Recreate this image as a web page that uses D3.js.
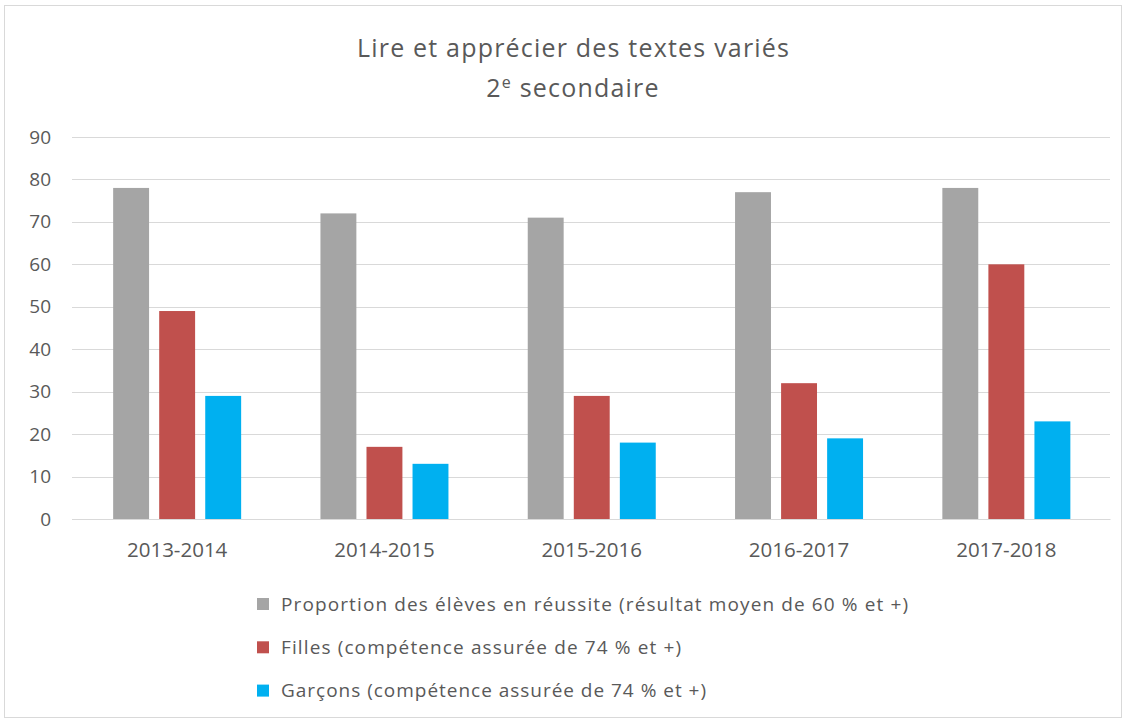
<!DOCTYPE html>
<html><head><meta charset="utf-8">
<script src="https://cdn.jsdelivr.net/npm/d3@7/dist/d3.min.js"></script>
<style>body{margin:0;background:#fff;} text{font-family:"Open Sans","Liberation Sans",sans-serif;}</style>
</head><body><svg id="c" width="1126" height="723"></svg>
<script>
const categories = ["2013-2014","2014-2015","2015-2016","2016-2017","2017-2018"];
const seriesNames = ["Proportion des élèves en réussite (résultat moyen de 60 % et +)","Filles  (compétence assurée de 74 % et +)","Garçons (compétence assurée de 74 % et +)"];
const reussite = [78,72,71,77,78];
const filles = [49,17,29,32,60];
const garcons = [29,13,18,19,23];
const yTicks = [0,10,20,30,40,50,60,70,80,90];
const colors = ["#a5a5a5","#c0504d","#00b0f0"];
const series = [reussite, filles, garcons];
const legendWidths = [627,400,425];

const svg = d3.select("#c");
svg.append("rect").attr("x",4.5).attr("y",5.5).attr("width",1117).attr("height",712).attr("fill","#fff").attr("stroke","#d9d9d9");

const x0 = d3.scaleBand().domain(categories).range([73.5,1110]);
const bw = x0.bandwidth();
const groupW = 128;
const x1 = d3.scaleBand().domain(d3.range(3)).range([(bw-groupW)/2,(bw+groupW)/2]).paddingInner(0.22).paddingOuter(0);
const y = d3.scaleLinear().domain([0,90]).range([519,137]);

const grid = svg.append("g");
grid.selectAll("line").data(yTicks).join("line")
  .attr("x1",72).attr("x2",1110).attr("y1",d=>Math.round(y(d))+0.5).attr("y2",d=>Math.round(y(d))+0.5)
  .attr("stroke","#d9d9d9").attr("stroke-width",1);

const yAxis = svg.append("g").attr("transform","translate(72,0)")
  .call(d3.axisLeft(y).tickValues(yTicks).tickSize(0).tickPadding(21));
yAxis.select(".domain").remove();
yAxis.selectAll("text").attr("fill","#595959").style("font-size","19px");

const groups = svg.append("g").selectAll("g").data(categories).join("g")
  .attr("transform",d=>`translate(${x0(d)},0)`);
groups.selectAll("rect").data((d,i)=>series.map((s,k)=>({k,v:s[i]}))).join("rect")
  .attr("x",d=>x1(d.k)).attr("width",x1.bandwidth())
  .attr("y",d=>y(d.v)).attr("height",d=>y(0)-y(d.v))
  .attr("fill",d=>colors[d.k]);

const xAxis = svg.append("g").attr("transform","translate(0,519)")
  .call(d3.axisBottom(x0).tickSize(0).tickPadding(23));
xAxis.select(".domain").attr("stroke","#d9d9d9");
xAxis.selectAll("text").attr("fill","#595959").style("font-size","20.5px");

svg.append("text").attr("x",573).attr("y",57).attr("text-anchor","middle")
  .attr("fill","#595959").style("font-size","25px")
  .attr("textLength",432).attr("lengthAdjust","spacing").text("Lire et apprécier des textes variés");
const t2 = svg.append("text").attr("x",573).attr("y",97).attr("text-anchor","middle")
  .attr("fill","#595959").style("font-size","25px").style("letter-spacing","1.2px");
t2.append("tspan").text("2");
t2.append("tspan").attr("dy",-9).style("font-size","16px").text("e");
t2.append("tspan").attr("dy",9).text(" secondaire");

const leg = svg.append("g").selectAll("g").data(seriesNames).join("g")
  .attr("transform",(d,i)=>`translate(257,${604+i*43.3})`);
leg.append("rect").attr("x",0).attr("y",-6).attr("width",12).attr("height",12).attr("fill",(d,i)=>colors[i]);
leg.append("text").attr("x",24).attr("y",0).attr("dy","0.35em").attr("fill","#595959").style("font-size","19px")
  .attr("textLength",(d,i)=>legendWidths[i]).attr("lengthAdjust","spacing").text(d=>d);
</script></body></html>
